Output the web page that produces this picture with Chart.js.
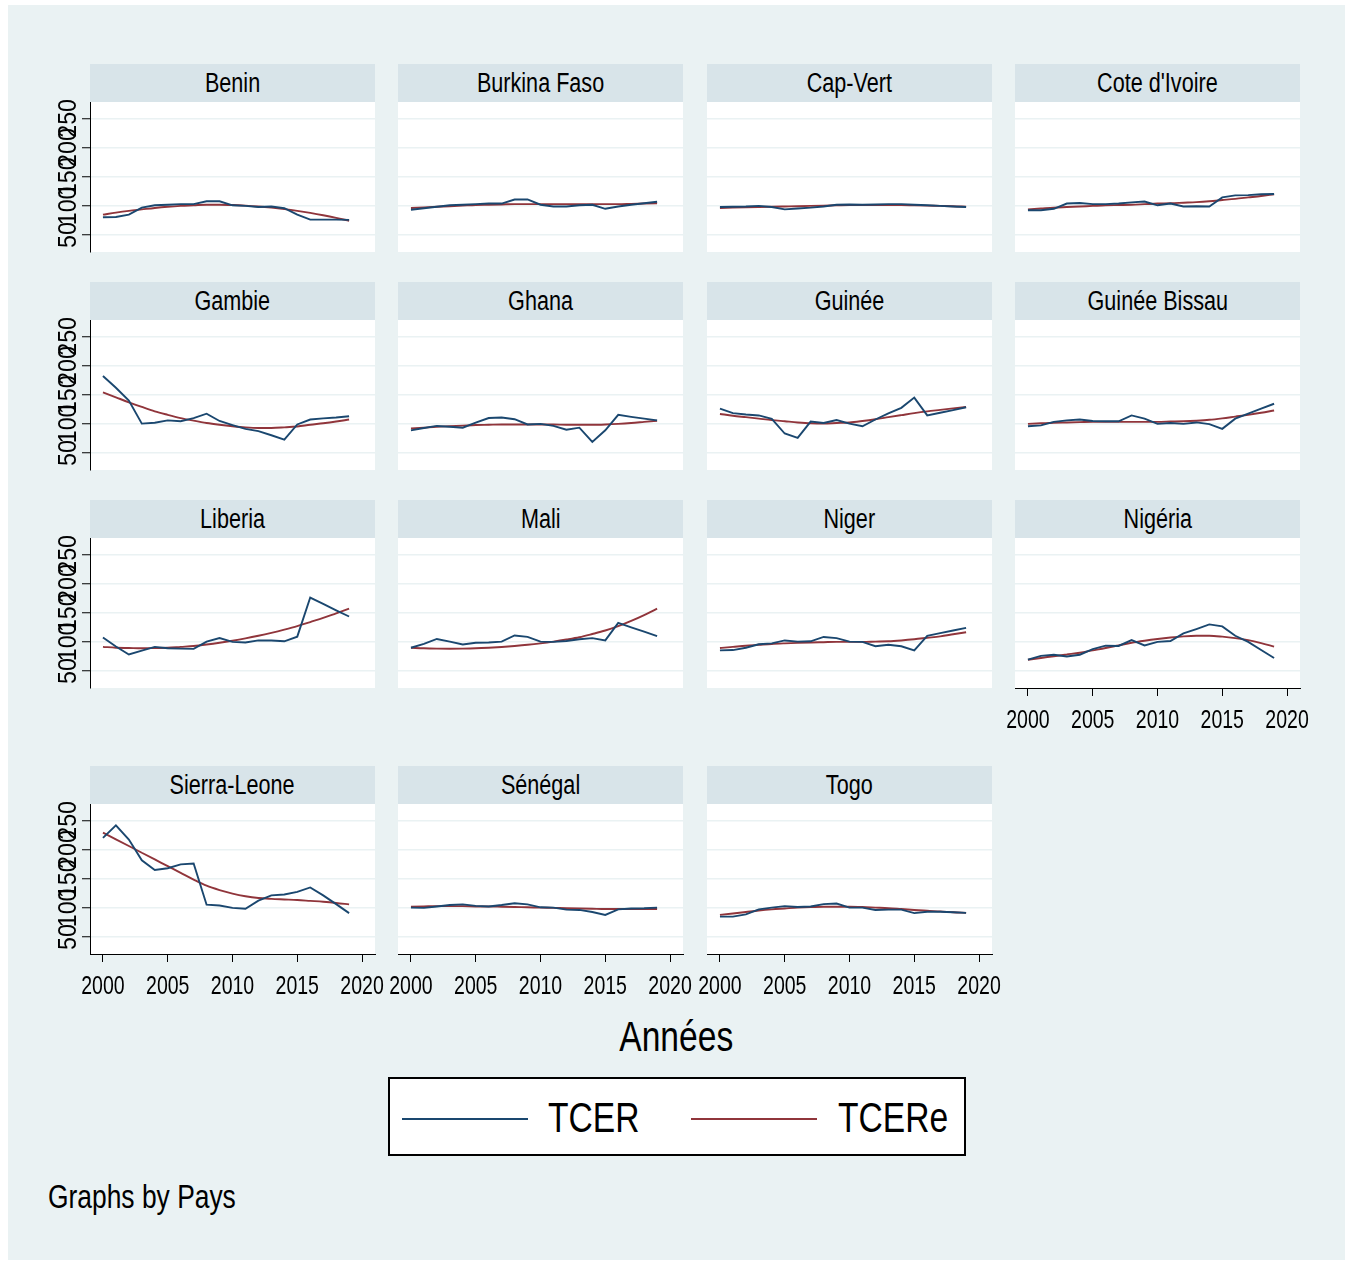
<!DOCTYPE html>
<html lang="fr">
<head>
<meta charset="utf-8">
<title>TCER par pays</title>
<script src="https://cdn.jsdelivr.net/npm/chart.js@4.4.1/dist/chart.umd.min.js"></script>
<style>
  body { margin: 0; background: #fff; width: 1350px; height: 1262px; position: relative; overflow: hidden;
         font-family: "Liberation Sans", Arial, sans-serif; color: #000; }
  #fond { position: absolute; left: 8px; top: 5px; width: 1337px; height: 1255px; background: #eaf2f3; }
  .strip { position: absolute; height: 38px; line-height: 38px; background: #d8e4e9; text-align: center; font-size: 27px; white-space: nowrap; }
  .etroit { display: inline-block; transform: scaleX(0.8); transform-origin: center; }
  .gaucheEtroit { display: inline-block; transform: scaleX(0.8); transform-origin: left center; }
  canvas { position: absolute; }
  #titreX { position: absolute; left: 476px; width: 400px; top: 1012px; text-align: center; font-size: 42px; line-height: 50px; }
  #legende { position: absolute; left: 388px; top: 1077px; width: 574px; height: 75px; border: 2px solid #000; background: #fff; }
  .cle { position: absolute; top: 39px; width: 126px; height: 0; border-top: 2px solid; }
  .nom { position: absolute; top: 14px; font-size: 42px; line-height: 50px; white-space: nowrap; }
  #note { position: absolute; left: 48px; top: 1177px; font-size: 33px; line-height: 40px; white-space: nowrap; }
</style>
</head>
<body>
<div id="fond"></div>
<div id="titreX"><span class="etroit">Années</span></div>
<div id="legende">
  <div class="cle" style="left:12px;border-color:#1a476f"></div><div class="nom" style="left:158px"><span class="gaucheEtroit">TCER</span></div>
  <div class="cle" style="left:301px;border-color:#90353b"></div><div class="nom" style="left:448px"><span class="gaucheEtroit">TCERe</span></div>
</div>
<div id="note"><span class="gaucheEtroit">Graphs by Pays</span></div>
<script>
const annees = [2000, 2001, 2002, 2003, 2004, 2005, 2006, 2007, 2008, 2009,
                2010, 2011, 2012, 2013, 2014, 2015, 2016, 2017, 2018, 2019];
const pays = ['Benin', 'Burkina Faso', 'Cap-Vert', "Cote d'Ivoire", 'Gambie', 'Ghana', 'Guinée', 'Guinée Bissau',
              'Liberia', 'Mali', 'Niger', 'Nigéria', 'Sierra-Leone', 'Sénégal', 'Togo'];
const xTicks = [2000, 2005, 2010, 2015, 2020];
const yTicks = [50, 100, 150, 200, 250];

const tcerBenin  = [80.5, 81, 85, 97, 101, 102, 103, 103, 108, 108, 101, 100, 98, 99, 96, 85, 76.5, 76.5, 76.5, 76];
const tcereBenin = [85, 88.5, 91.5, 94, 96.5, 98.5, 100, 101, 102, 102, 101.5, 100.5, 99, 97, 94.5, 91.5, 88, 84, 79.5, 74.5];
const tcerBurkina  = [93.5, 96, 98.5, 101, 102, 103, 104, 104, 111, 111, 102, 99, 99, 101, 102, 95, 99, 102, 104.5, 107];
const tcereBurkina = [96.5, 97.5, 98.5, 99.5, 100.5, 101.5, 102, 102.5, 103, 103, 103, 103, 103, 103, 103, 103, 103, 103.5, 104, 104.5];
const tcerCapVert  = [98, 98.5, 99, 100, 98, 94, 95.5, 97, 99, 102, 102.5, 102, 102.5, 103, 103, 102, 101, 100, 99, 98];
const tcereCapVert = [96.5, 97, 97.5, 98, 98.5, 99, 99.5, 100, 100.5, 101, 101.5, 101.5, 101.5, 101.5, 101.5, 101, 100.5, 100, 99.5, 98.5];
const tcerCoteIvoire  = [92.5, 92.5, 95, 104, 105, 103, 103, 104, 106, 107.5, 101, 104, 99, 99.5, 99, 114.5, 118, 118.5, 120, 120.5];
const tcereCoteIvoire = [94, 95.5, 97, 98, 99, 100, 101, 101.5, 102, 103, 104, 104.5, 105.5, 106.5, 108, 110, 112, 114.5, 117, 120];
const tcerGambie  = [182, 162, 140, 100.5, 102, 106, 104.5, 110, 117.5, 105, 98, 91.5, 87.5, 80.5, 73, 99, 107.5, 109.5, 111, 113];
const tcereGambie = [154, 145.5, 137, 129, 121.5, 115.5, 110, 105.5, 101.5, 98.5, 96, 94, 93, 93, 94, 95.5, 98.5, 101, 104, 107.5];
const tcerGhana  = [89, 93, 96.5, 95, 93.5, 102, 110, 111, 108, 99, 100, 96.5, 90, 93.5, 69, 89, 115.5, 112, 109, 106];
const tcereGhana = [92, 93.5, 95, 96, 97, 98, 98.5, 99, 99, 99, 99, 99, 98.5, 98.5, 98.5, 99, 100, 101.5, 103.5, 105.5];
const tcerGuinee  = [126, 118.5, 116, 114.5, 108.5, 83.5, 76, 104, 101.5, 106.5, 100.5, 96, 107.5, 118, 127.5, 145, 114.5, 119, 123.5, 128.5];
const tcereGuinee = [117, 114, 111.5, 109, 106.5, 104.5, 102.5, 101, 100.5, 101.5, 102.5, 105, 108, 111.5, 115, 118.5, 121.5, 124, 126.5, 129];
const tcerGuineeBissau  = [96, 97.5, 103.5, 106, 107.5, 105, 104.5, 104.5, 114.5, 109, 100, 101.5, 100, 102.5, 99.5, 91.5, 109, 117.5, 126, 134.5];
const tcereGuineeBissau = [100, 101, 102, 102.5, 103, 103.5, 103.5, 103.5, 103.5, 103.5, 103.5, 104, 104.5, 105.5, 107, 109.5, 112.5, 115.5, 119, 123];
const tcerLiberia  = [107.5, 92, 78.5, 85, 91.5, 89, 88.5, 88, 100.5, 106.5, 100, 99, 102.5, 102.5, 101, 109, 176, 165, 154, 143.5];
const tcereLiberia = [91.5, 90, 89.5, 89, 89.5, 90, 91.5, 93, 95.5, 98.5, 102, 106, 110.5, 115.5, 121, 127, 134, 141, 149, 157];
const tcerMali  = [90, 96.5, 105, 100.5, 95.5, 98.5, 99, 100.5, 111, 108.5, 100.5, 100, 101.5, 104.5, 106.5, 102.5, 132.5, 125, 117.5, 110];
const tcereMali = [90, 89, 88.5, 88.3, 88.5, 89, 90, 91.3, 93, 95, 97.5, 100.5, 104, 108, 113.5, 119.5, 127, 136, 146, 157];
const tcerNiger  = [85.5, 86, 90, 96, 97.5, 102.5, 100.5, 101, 108.5, 106.5, 100.5, 100, 92.5, 95, 92.5, 85.5, 110.5, 115, 119.5, 124];
const tcereNiger = [89.5, 91.5, 93.5, 95, 96.5, 97.5, 98.3, 99, 99.5, 100, 100, 100, 100.5, 101, 102.5, 104.5, 107, 109.5, 113, 116.5];
const tcerNigeria  = [69.5, 76, 78, 75, 78, 87.5, 93.5, 93, 103, 94, 100, 101.5, 114.5, 122, 130, 126.5, 110.5, 100, 86, 72.5];
const tcereNigeria = [69.5, 72.5, 75.5, 78.5, 81.5, 85.5, 89.5, 94, 98.5, 102, 105, 107.5, 109.5, 110.5, 110.5, 109, 106.5, 103, 98, 92];
const tcerSierraLeone  = [220, 241.5, 217, 181.5, 165, 168, 174.5, 176, 105.5, 104, 100, 98.5, 112.5, 121.5, 123, 127.5, 135, 121.5, 106.5, 91];
const tcereSierraLeone = [229, 217.5, 206, 194.5, 183, 171.5, 160, 148.5, 138, 130.5, 124.5, 120, 117, 115.5, 114.5, 113.5, 112, 110.5, 108.5, 106];
const tcerSenegal  = [100.5, 100, 102.5, 105, 106, 103.5, 102.5, 105, 108, 106, 101, 100.5, 97, 96.5, 93, 88, 97.5, 99, 99.5, 100.5];
const tcereSenegal = [102, 102.5, 103, 103, 103, 102.5, 102.5, 102, 101.5, 101, 100.5, 100, 99.5, 99, 98.5, 98, 98, 98, 98, 98];
const tcerTogo  = [85, 85, 89, 97.5, 100.5, 103, 101.5, 102.5, 106.5, 107.5, 100.5, 100.5, 96.5, 97, 97, 91, 93.5, 93.5, 92.5, 91.5];
const tcereTogo = [88, 90.5, 93, 95.5, 97.5, 99, 100.5, 101.5, 102, 102, 102, 101.5, 100.5, 99.5, 98, 96.5, 95, 94, 92.5, 91.5];

const tcer  = [tcerBenin, tcerBurkina, tcerCapVert, tcerCoteIvoire, tcerGambie, tcerGhana, tcerGuinee, tcerGuineeBissau,
               tcerLiberia, tcerMali, tcerNiger, tcerNigeria, tcerSierraLeone, tcerSenegal, tcerTogo];
const tcere = [tcereBenin, tcereBurkina, tcereCapVert, tcereCoteIvoire, tcereGambie, tcereGhana, tcereGuinee, tcereGuineeBissau,
               tcereLiberia, tcereMali, tcereNiger, tcereNigeria, tcereSierraLeone, tcereSenegal, tcereTogo];

const POLICE = '25px "Liberation Sans", Arial, sans-serif';
const ETROIT_X = 0.78;   // police étroite simulée (pas de Arial Narrow installée)
const ETROIT_Y = 0.93;
const colX = [90, 398, 707, 1015];
const rowY = [64, 282, 500, 766];
const largeur = 285, hauteur = 150;

// fond blanc de la zone de tracé
const fondBlanc = {
  id: 'fondBlanc',
  beforeDraw(chart) {
    const { ctx, chartArea: a } = chart;
    ctx.save();
    ctx.fillStyle = '#fff';
    ctx.fillRect(a.left, a.top, a.right - a.left, a.bottom - a.top);
    ctx.restore();
  }
};

// étiquettes des axes, écrites en étroit à la place de celles de Chart.js
const etiquettes = {
  id: 'etiquettes',
  afterDraw(chart, args, opts) {
    const ctx = chart.ctx;
    ctx.save();
    ctx.fillStyle = '#000';
    ctx.font = POLICE;
    ctx.textAlign = 'center';
    ctx.textBaseline = 'alphabetic';
    if (opts.x) {
      const s = chart.scales.x;
      s.ticks.forEach(t => {
        ctx.save();
        ctx.translate(s.getPixelForValue(t.value), s.top + 40);
        ctx.scale(ETROIT_X, 1);
        ctx.fillText(String(t.value), 0, 0);
        ctx.restore();
      });
    }
    if (opts.y) {
      const s = chart.scales.y;
      s.ticks.forEach(t => {
        ctx.save();
        ctx.translate(s.right - 14, s.getPixelForValue(t.value));
        ctx.rotate(-Math.PI / 2);
        ctx.scale(ETROIT_Y, 1);
        ctx.fillText(String(t.value), 0, 0);
        ctx.restore();
      });
    }
    ctx.restore();
  }
};

pays.forEach((nom, i) => {
  const col = i % 4, row = Math.floor(i / 4);
  const px = colX[col], py = rowY[row] + 38;
  const gauche = col === 0;
  const bas = i >= 11;

  const strip = document.createElement('div');
  strip.className = 'strip';
  strip.style.left = px + 'px';
  strip.style.top = rowY[row] + 'px';
  strip.style.width = largeur + 'px';
  const titre = document.createElement('span');
  titre.className = 'etroit';
  titre.textContent = nom;
  strip.appendChild(titre);
  document.body.appendChild(strip);

  const cv = document.createElement('canvas');
  cv.width = largeur + 70;
  cv.height = hauteur + 70;
  cv.style.left = (px - 50) + 'px';
  cv.style.top = (py - 20) + 'px';
  document.body.appendChild(cv);

  new Chart(cv, {
    type: 'line',
    data: {
      datasets: [
        { label: 'TCER', data: annees.map((a, k) => ({ x: a, y: tcer[i][k] })),
          borderColor: '#1a476f', borderWidth: 1.9, pointRadius: 0, tension: 0, fill: false },
        { label: 'TCERe', data: annees.map((a, k) => ({ x: a, y: tcere[i][k] })),
          borderColor: '#90353b', borderWidth: 1.9, pointRadius: 0, cubicInterpolationMode: 'monotone', fill: false }
      ]
    },
    options: {
      responsive: false,
      animation: false,
      events: [],
      layout: { padding: { top: 20, right: 20, left: 0, bottom: 0 } },
      plugins: { legend: { display: false }, tooltip: { enabled: false }, etiquettes: { x: bas, y: gauche } },
      scales: {
        x: {
          type: 'linear', min: 1999, max: 2021,
          afterBuildTicks: s => { s.ticks = xTicks.map(v => ({ value: v })); },
          afterFit: s => { s.height = 50; },
          grid: { display: bas, drawOnChartArea: false, tickLength: 8, tickColor: '#000', tickWidth: 1 },
          border: { display: bas, color: '#000', width: 1 },
          ticks: { display: bas, color: 'transparent', font: { size: 12 }, padding: 5,
                   minRotation: 0, maxRotation: 0, autoSkip: false, callback: v => String(v) }
        },
        y: {
          type: 'linear', min: 21, max: 278,
          afterBuildTicks: s => { s.ticks = yTicks.map(v => ({ value: v })); },
          afterFit: s => { s.width = 50; },
          grid: { color: '#eaf2f3', lineWidth: 1.5, drawTicks: gauche, tickLength: 8, tickColor: '#000', tickWidth: 1 },
          border: { display: gauche, color: '#000', width: 1 },
          ticks: { display: gauche, color: 'transparent', font: { size: 12 }, padding: 0,
                   autoSkip: false, callback: v => String(v) }
        }
      }
    },
    plugins: [fondBlanc, etiquettes]
  });
});
</script>
</body>
</html>
